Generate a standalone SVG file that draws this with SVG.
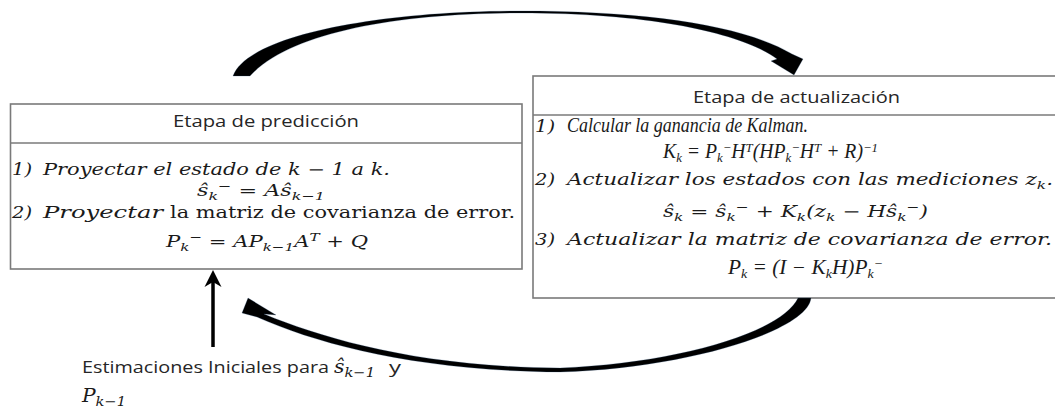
<svg xmlns="http://www.w3.org/2000/svg" width="1055" height="413" viewBox="0 0 1055 413">
<style>
.box{fill:#fff;stroke:#7a7a7a;stroke-width:1.6}
.div{stroke:#7a7a7a;stroke-width:1.6}
.h{font-family:"Open Sans","Liberation Sans",sans-serif;font-size:16px;fill:#262626}
.t{font-family:"Open Sans","Liberation Sans",sans-serif;font-size:17px;fill:#262626}
.m{font-family:"DejaVu Serif","Liberation Serif",serif;font-style:italic;font-size:16px;fill:#1a1a1a}
.n{font-family:"Liberation Serif","DejaVu Serif",serif;font-style:italic;font-size:20px;fill:#1a1a1a}
.u{font-family:"DejaVu Serif","Liberation Serif",serif;font-size:16px;fill:#1a1a1a}
.s{font-size:11.5px}
.n .s{font-size:13px}
.b{font-size:18px}
.b .s{font-size:13px}
.arc{fill:#000;stroke:#2d5680;stroke-width:0.4;stroke-opacity:0.6}
</style>
<g id="node-prediccion">
<rect class="box" x="10.5" y="104" width="511.5" height="165"/>
<line class="div" x1="10.5" y1="143" x2="522" y2="143"/>
<text class="h" x="173" y="127" textLength="186" lengthAdjust="spacingAndGlyphs">Etapa de predicción</text>
<text class="m" x="12" y="175" textLength="20" lengthAdjust="spacingAndGlyphs">1)</text>
<text class="m" x="43" y="175" textLength="347" lengthAdjust="spacingAndGlyphs">Proyectar el estado de k − 1 a k.</text>
<text class="m" x="197" y="196" textLength="128" lengthAdjust="spacingAndGlyphs">ŝ<tspan class="s" dy="4">k</tspan><tspan class="s" dy="-10">−</tspan><tspan dy="6"> = Aŝ</tspan><tspan class="s" dy="4">k−1</tspan></text>
<text class="m" x="12" y="218" textLength="20" lengthAdjust="spacingAndGlyphs">2)</text>
<text class="m" x="43" y="218" textLength="120" lengthAdjust="spacingAndGlyphs">Proyectar</text>
<text class="u" x="170" y="218" textLength="345" lengthAdjust="spacingAndGlyphs">la matriz de covarianza de error.</text>
<text class="m" x="166" y="247" textLength="202" lengthAdjust="spacingAndGlyphs">P<tspan class="s" dy="4">k</tspan><tspan class="s" dy="-10">−</tspan><tspan dy="6"> = AP</tspan><tspan class="s" dy="4">k−1</tspan><tspan dy="-4">A</tspan><tspan class="s" dy="-6">T</tspan><tspan dy="6"> + Q</tspan></text>
</g>
<g id="node-actualizacion">
<rect class="box" x="533" y="76" width="540" height="222"/>
<line class="div" x1="533" y1="115" x2="1060" y2="115"/>
<text class="h" x="693" y="103" textLength="207" lengthAdjust="spacingAndGlyphs">Etapa de actualización</text>
<text class="m" x="535" y="132" textLength="20" lengthAdjust="spacingAndGlyphs">1)</text>
<text class="n" x="567" y="132" textLength="241" lengthAdjust="spacingAndGlyphs">Calcular la ganancia de Kalman.</text>
<text class="n" x="663" y="158" textLength="215" lengthAdjust="spacingAndGlyphs">K<tspan class="s" dy="4">k</tspan><tspan dy="-4"> = P</tspan><tspan class="s" dy="4">k</tspan><tspan class="s" dy="-10">−</tspan><tspan dy="6">H</tspan><tspan class="s" dy="-6">T</tspan><tspan dy="6">(HP</tspan><tspan class="s" dy="4">k</tspan><tspan class="s" dy="-10">−</tspan><tspan dy="6">H</tspan><tspan class="s" dy="-6">T</tspan><tspan dy="6"> + R)</tspan><tspan class="s" dy="-6">−1</tspan></text>
<text class="m" x="535" y="185" textLength="20" lengthAdjust="spacingAndGlyphs">2)</text>
<text class="m" x="567" y="185" textLength="486" lengthAdjust="spacingAndGlyphs">Actualizar los estados con las mediciones z<tspan class="s" dy="4">k</tspan><tspan dy="-4">.</tspan></text>
<text class="m" x="663" y="217" textLength="265" lengthAdjust="spacingAndGlyphs">ŝ<tspan class="s" dy="4">k</tspan><tspan dy="-4">  = ŝ</tspan><tspan class="s" dy="4">k</tspan><tspan class="s" dy="-10">−</tspan><tspan dy="6"> + K</tspan><tspan class="s" dy="4">k</tspan><tspan dy="-4">(z</tspan><tspan class="s" dy="4">k</tspan><tspan dy="-4"> − Hŝ</tspan><tspan class="s" dy="4">k</tspan><tspan class="s" dy="-10">−</tspan><tspan dy="6">)</tspan></text>
<text class="m" x="535" y="245" textLength="20" lengthAdjust="spacingAndGlyphs">3)</text>
<text class="m" x="567" y="245" textLength="485" lengthAdjust="spacingAndGlyphs">Actualizar la matriz de covarianza de error.</text>
<text class="n" x="728" y="274" textLength="155" lengthAdjust="spacingAndGlyphs">P<tspan class="s" dy="4">k</tspan><tspan dy="-4"> = (I − K</tspan><tspan class="s" dy="4">k</tspan><tspan dy="-4">H)P</tspan><tspan class="s" dy="4">k</tspan><tspan class="s" dy="-10">−</tspan></text>
</g>
<g id="node-estimaciones">
<text class="t" x="82" y="373" textLength="247" lengthAdjust="spacingAndGlyphs">Estimaciones Iniciales para</text>
<text class="m b" x="334" y="373" textLength="41" lengthAdjust="spacingAndGlyphs">ŝ<tspan class="s" dy="4">k−1</tspan></text>
<text class="t" x="389" y="373" textLength="12" lengthAdjust="spacingAndGlyphs">y</text>
<text class="m b" x="82" y="402" textLength="44" lengthAdjust="spacingAndGlyphs">P<tspan class="s" dy="4">k−1</tspan></text>
</g>
<g id="connectors">
<path class="arc" d="M233 76 C248 35 380 11 520 11 C650 11 745 26 792 54 L803 59 L794 75 L771 61 L777 59 C748 37 665 13 520 13 C400 13 290 32 250 76 Z"/>
<path class="arc" d="M811 298 C808 330 690 368 560 372 C420 371 320 345 257 317 L242 313 L248 298 L276 315 L264 314 C325 339 420 367 560 368 C680 363 782 332 798 298 Z"/>
<line x1="213" y1="347" x2="213" y2="280" stroke="#000" stroke-width="3.5"/>
<polygon points="213,270 221.5,287 213,282 204.5,287" fill="#000"/>
</g>
</svg>
